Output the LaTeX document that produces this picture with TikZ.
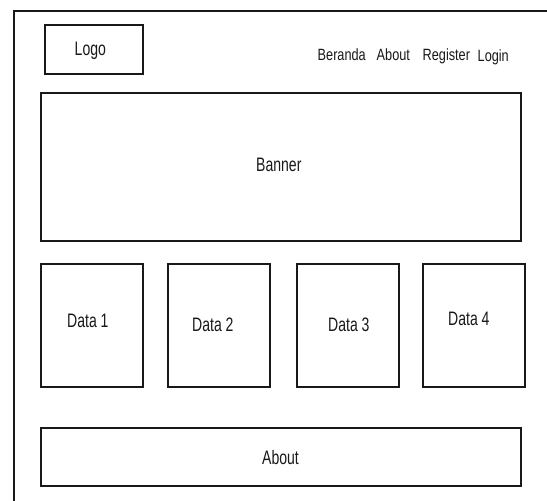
\documentclass[tikz,border=0pt]{standalone}
\usepackage{fontspec}
\setmainfont{Liberation Sans}
\newfontfamily\bodyfont[FakeStretch=0.72]{Liberation Sans}
\newfontfamily\navfont[FakeStretch=0.78]{Liberation Sans}
\begin{document}
\begin{tikzpicture}[x=1pt,y=-1pt,
  box/.style={draw=black!90,line width=1.8pt,fill=white,inner sep=0pt,outer sep=0pt},
  lbl/.style={inner sep=0pt,anchor=base west,font=\bodyfont\fontsize{19.5}{22}\selectfont,text=black!90},
  nav/.style={inner sep=0pt,anchor=base west,font=\navfont\fontsize{16.3}{19}\selectfont,text=black!90}]
\useasboundingbox (0,0) rectangle (547,501);
\fill[white] (0,0) rectangle (547,501);
% page frame
\coordinate (fr) at (547,11);
\coordinate (fc) at (14,11);
\coordinate (fb) at (14,501);
\draw[line width=1.6pt,black!90] (fr) -- (fc) -- (fb);
% boxes
\node[box,minimum width=98pt,minimum height=49pt] (logobox) at (94,49.5) {};
\node[box,minimum width=480pt,minimum height=148pt] (bannerbox) at (281,167) {};
\node[box,minimum width=102pt,minimum height=123pt] (d1box) at (92,325.5) {};
\node[box,minimum width=102pt,minimum height=123pt] (d2box) at (219,325.5) {};
\node[box,minimum width=102pt,minimum height=123pt] (d3box) at (348,325.5) {};
\node[box,minimum width=102pt,minimum height=123pt] (d4box) at (474,325.5) {};
\node[box,minimum width=480pt,minimum height=58pt] (aboutbox) at (281,457) {};
% texts
\node[lbl] (logo) at (74.5,55) {Logo};
\node[nav] (beranda) at (317.5,60) {Beranda};
\node[nav] (navabout) at (376.5,60) {About};
\node[nav] (register) at (422.5,60) {Register};
\node[nav] (login) at (477.5,61.5) {Login};
\node[lbl] (banner) at (256,171) {Banner};
\node[lbl] (data1) at (67,327.5) {Data 1};
\node[lbl] (data2) at (192,331.5) {Data 2};
\node[lbl] (data3) at (328,331.5) {Data 3};
\node[lbl] (data4) at (448,325.5) {Data 4};
\node[lbl] (about) at (262,464) {About};
\end{tikzpicture}
\end{document}
